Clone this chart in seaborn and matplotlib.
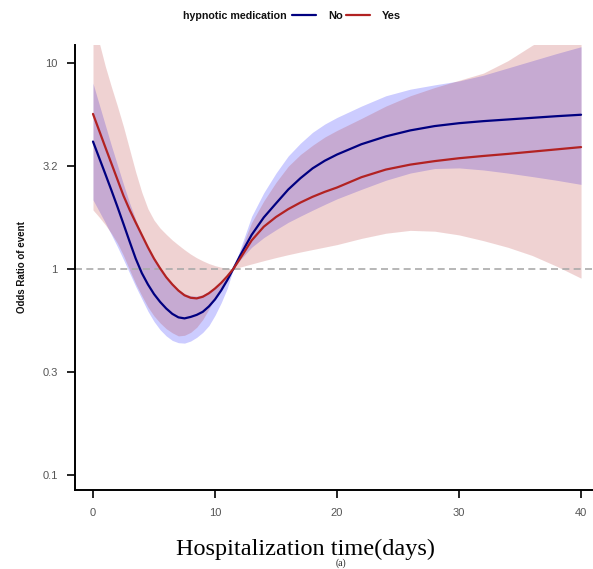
import numpy as np
import pandas as pd
import matplotlib
matplotlib.use("Agg")
import matplotlib.pyplot as plt
import seaborn as sns
from matplotlib.lines import Line2D
from matplotlib.ticker import NullLocator

# ---- data (odds ratios given as log10 values) ----
days = [0, 0.5, 1, 1.5, 2, 2.5, 3, 3.5, 4, 4.5, 5, 5.5, 6, 6.5, 7, 7.5, 8, 8.5,
        9, 9.5, 10, 10.5, 11, 11.5, 12, 13, 14, 15, 16, 17, 18, 19, 20,
        22, 24, 26, 28, 30, 32, 34, 36, 38, 40]

# hypnotic medication = No
log_or_no = [0.618, 0.540, 0.462, 0.383, 0.302, 0.218, 0.133, 0.050, -0.020,
             -0.075, -0.122, -0.160, -0.192, -0.218, -0.235, -0.240, -0.233,
             -0.223, -0.208, -0.182, -0.148, -0.105, -0.055, 0.0,
             0.058, 0.165, 0.250, 0.318, 0.385, 0.440, 0.488, 0.525, 0.555,
             0.605, 0.643, 0.672, 0.693, 0.707, 0.717, 0.725, 0.733, 0.741, 0.748]
log_no_lo = [0.335, 0.280, 0.225, 0.167, 0.108, 0.045, -0.020, -0.085, -0.145,
             -0.205, -0.255, -0.295, -0.325, -0.347, -0.358, -0.360, -0.350,
             -0.332, -0.308, -0.275, -0.225, -0.165, -0.095, 0.0,
             0.040, 0.105, 0.152, 0.190, 0.226, 0.256, 0.285, 0.313, 0.340,
             0.386, 0.430, 0.465, 0.487, 0.490, 0.480, 0.465, 0.448, 0.430, 0.410]
log_no_hi = [0.901, 0.800, 0.700, 0.600, 0.505, 0.410, 0.320, 0.240, 0.170,
             0.105, 0.055, 0.008, -0.035, -0.072, -0.100, -0.120, -0.130,
             -0.132, -0.125, -0.110, -0.090, -0.068, -0.040, 0.0,
             0.085, 0.255, 0.370, 0.465, 0.548, 0.610, 0.663, 0.703, 0.735,
             0.790, 0.840, 0.872, 0.893, 0.912, 0.940, 0.975, 1.010, 1.045, 1.078]

# hypnotic medication = Yes
log_or_yes = [0.752, 0.672, 0.592, 0.513, 0.434, 0.355, 0.287, 0.225, 0.165,
              0.105, 0.050, 0.003, -0.040, -0.075, -0.105, -0.128, -0.140,
              -0.143, -0.135, -0.118, -0.095, -0.068, -0.036, 0.0,
              0.045, 0.138, 0.205, 0.252, 0.290, 0.322, 0.350, 0.374, 0.395,
              0.445, 0.482, 0.506, 0.523, 0.537, 0.548, 0.558, 0.569, 0.580, 0.591]
log_yes_lo = [0.286, 0.252, 0.215, 0.173, 0.125, 0.065, -0.005, -0.072, -0.130,
              -0.185, -0.228, -0.262, -0.290, -0.310, -0.325, -0.322, -0.308,
              -0.283, -0.245, -0.195, -0.140, -0.095, -0.055, 0.0,
              0.008, 0.024, 0.040, 0.055, 0.069, 0.082, 0.094, 0.106, 0.118,
              0.148, 0.173, 0.187, 0.183, 0.165, 0.137, 0.105, 0.065, 0.013, -0.045]
log_yes_hi = [1.300, 1.100, 0.985, 0.885, 0.790, 0.690, 0.580, 0.470, 0.372,
              0.292, 0.237, 0.198, 0.168, 0.140, 0.116, 0.093, 0.072, 0.054,
              0.039, 0.026, 0.016, 0.008, 0.003, 0.0,
              0.075, 0.225, 0.330, 0.420, 0.498, 0.555, 0.600, 0.640, 0.672,
              0.730, 0.790, 0.840, 0.880, 0.915, 0.950, 1.010, 1.085, 1.150, 1.210]

groups = ["No", "Yes"]
ytick_vals = [0.1, 0.3162, 1, 3.162, 10]
ytick_labels = ["0.1", "0.3", "1", "3.2", "10"]
xtick_vals = [0, 10, 20, 30, 40]

blue_line = "#000080"
red_line = "#B22222"

to_or = lambda v: list(np.power(10.0, np.asarray(v)))

df = pd.DataFrame({
    "days": days * 2,
    "OR": to_or(log_or_no) + to_or(log_or_yes),
    "hypnotic medication": [groups[0]] * len(days) + [groups[1]] * len(days),
})

sns.set_theme(style="ticks")
plt.rcParams["font.family"] = ["Liberation Sans", "DejaVu Sans"]

W, H = 593, 569
fig = plt.figure(figsize=(W / 100, H / 100), dpi=100)
ax = fig.add_axes([75 / W, 79 / H, 1 - 75 / W, (490 - 45) / H])

ax.fill_between(days, to_or(log_no_lo), to_or(log_no_hi),
                color="#0000FF", alpha=0.2, lw=0)
ax.fill_between(days, to_or(log_yes_lo), to_or(log_yes_hi),
                color="#B22222", alpha=0.2, lw=0)
ax.axhline(1, color="#AAAAAA", ls=(0, (4.2, 2.6)), lw=1.2, zorder=1)

sns.lineplot(data=df, x="days", y="OR", hue="hypnotic medication",
             palette={"No": blue_line, "Yes": red_line}, lw=1.6,
             legend=False, ax=ax, zorder=3)

ax.set_yscale("log")
ax.set_ylim(0.0846, 12.2)
ax.set_xlim(-1.475, 40.98)
ax.set_yticks(ytick_vals)
ax.set_yticklabels(ytick_labels)
ax.yaxis.set_minor_locator(NullLocator())
ax.set_xticks(xtick_vals)
ax.set_xticklabels([str(v) for v in xtick_vals])

sns.despine(ax=ax)
for s in ["left", "bottom"]:
    ax.spines[s].set_linewidth(1.4)
    ax.spines[s].set_color("black")
ax.tick_params(axis="both", direction="out", length=5.5, width=1.2,
               color="black", labelsize=8, labelcolor="#555555")
ax.tick_params(axis="x", pad=7.5)
ax.tick_params(axis="y", pad=7)

ax.set_ylabel("Odds Ratio of event", fontsize=7, fontweight="bold", color="#111111")
ax.yaxis.set_label_coords(-(75 - 27) / (W - 75), 0.5)

ax.set_xlabel("Hospitalization time(days)", fontsize=17.5,
              family=["Liberation Serif", "DejaVu Serif"], color="black")
ax.xaxis.set_label_coords((305 - 75) / (W - 75), -(539 - 490) / (490 - 45))

# legend at top
fig.text(183 / W, 1 - 16 / H, "hypnotic medication", fontsize=7.7,
         fontweight="bold", ha="left", va="center", color="#111111")
handles = [Line2D([], [], color=blue_line, lw=1.6),
           Line2D([], [], color=red_line, lw=1.6)]
leg = fig.legend(handles, groups, loc="center left",
                 bbox_to_anchor=(292 / W, 1 - 16 / H), ncol=2, frameon=False,
                 fontsize=8, handlelength=2.2, handletextpad=1.1,
                 columnspacing=0.2, borderpad=0, borderaxespad=0)
for t in leg.get_texts():
    t.set_fontweight("bold")
    t.set_color("#111111")

fig.text(341 / W, 0.5 / H, "(a)", fontsize=7,
         family=["Liberation Serif", "DejaVu Serif"], ha="center", va="bottom")

fig.savefig("out.png", dpi=100)
